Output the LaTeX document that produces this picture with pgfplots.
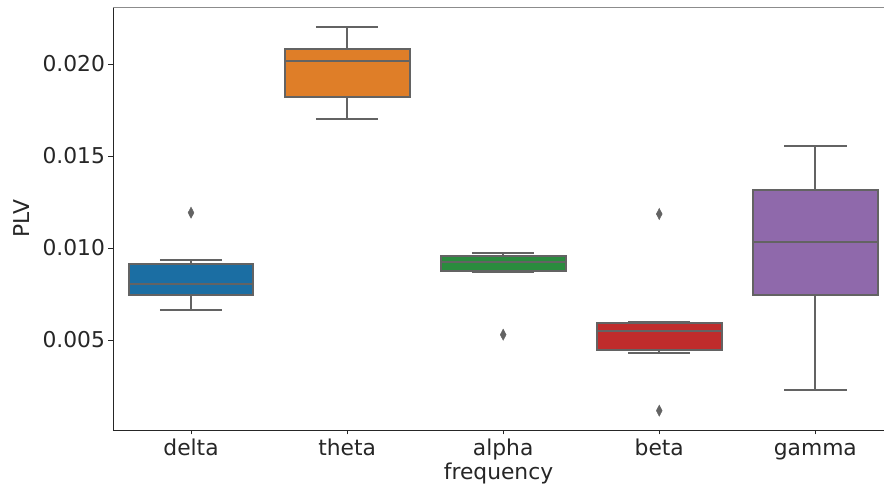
\documentclass[border=0pt]{standalone}
\usepackage{fontspec}
\setmainfont{DejaVu Sans}
\usepackage{pgfplots}
\pgfplotsset{compat=1.18}
\usepgfplotslibrary{statistics}
\definecolor{cdelta}{HTML}{1B6EA3}
\definecolor{ctheta}{HTML}{DF7E28}
\definecolor{calpha}{HTML}{2A8B3E}
\definecolor{cbeta}{HTML}{BF2C2C}
\definecolor{cgamma}{HTML}{8F69AB}
\definecolor{lgray}{HTML}{636363}
\begin{document}
\begin{tikzpicture}
\useasboundingbox (-113pt,-56pt) rectangle (771pt,430pt);
\begin{axis}[
  at={(0,0)}, anchor=south west,
  scale only axis, width=771pt, height=423pt,
  xmin=-0.5, xmax=4.44,
  ymin=0.00011, ymax=0.0231,
  xtick={0,1,2,3,4},
  xticklabels={delta,theta,alpha,beta,gamma},
  ytick={0.005,0.010,0.015,0.020},
  yticklabels={0.005,0.010,0.015,0.020},
  tick align=outside, tick pos=left,
  major tick length=4.5pt,
  every tick/.style={black!85, line width=0.8pt},
  axis line style={black!85, line width=0.9pt},
  axis x line*=bottom, axis y line*=left,
  ticklabel style={font=\fontsize{21.8}{26}\selectfont, text=black!85},
  xticklabel style={anchor=north, text height=16pt, text depth=0pt, inner sep=0pt, yshift=-5pt},
  label style={font=\fontsize{21.8}{26}\selectfont, text=black!85},
  xlabel={frequency},
  ylabel={PLV},
  xlabel style={anchor=north, inner sep=0pt, text height=16pt, at={(ticklabel cs:0.5)}, yshift=-8pt},
  ylabel style={yshift=6pt},
  clip=false,
  boxplot/draw direction=y,
]
\draw[black!45, line width=0.9pt] (axis cs:-0.5,0.0231) -- (axis cs:4.44,0.0231);
\pgfplotsset{
  myout/.style={mark=diamond*, mark size=5.6pt, mark options={solid, xscale=0.7, fill=lgray, draw=lgray, line width=0.4pt}},
  bx/.style={solid, draw=lgray, line width=2pt, myout,
    boxplot/every whisker/.style={draw=lgray, line width=2pt},
    boxplot/every median/.style={draw=lgray, line width=2pt}},
}
\addplot+[bx,
  boxplot prepared={lower whisker=0.00663, lower quartile=0.00746, median=0.00806, upper quartile=0.00913, upper whisker=0.00935, draw position=0, box extend=0.8, whisker extend=0.4,
  every box/.style={fill=cdelta, draw=lgray, line width=2pt}}]
  coordinates {(0,0.01192)};
\addplot+[bx,
  boxplot prepared={lower whisker=0.01699, lower quartile=0.01819, median=0.02018, upper quartile=0.02082, upper whisker=0.02203, draw position=1, box extend=0.8, whisker extend=0.4,
  every box/.style={fill=ctheta, draw=lgray, line width=2pt}}]
  coordinates {};
\addplot+[bx,
  boxplot prepared={lower whisker=0.00868, lower quartile=0.00877, median=0.00922, upper quartile=0.00958, upper whisker=0.00971, draw position=2, box extend=0.8, whisker extend=0.4,
  every box/.style={fill=calpha, draw=lgray, line width=2pt}}]
  coordinates {(2,0.00529)};
\addplot+[bx,
  boxplot prepared={lower whisker=0.00428, lower quartile=0.00446, median=0.00551, upper quartile=0.00594, upper whisker=0.00599, draw position=3, box extend=0.8, whisker extend=0.4,
  every box/.style={fill=cbeta, draw=lgray, line width=2pt}}]
  coordinates {(3,0.01185) (3,0.00116)};
\addplot+[bx,
  boxplot prepared={lower whisker=0.00228, lower quartile=0.00745, median=0.01034, upper quartile=0.01314, upper whisker=0.01554, draw position=4, box extend=0.8, whisker extend=0.4,
  every box/.style={fill=cgamma, draw=lgray, line width=2pt}}]
  coordinates {};
\end{axis}
\end{tikzpicture}
\end{document}
